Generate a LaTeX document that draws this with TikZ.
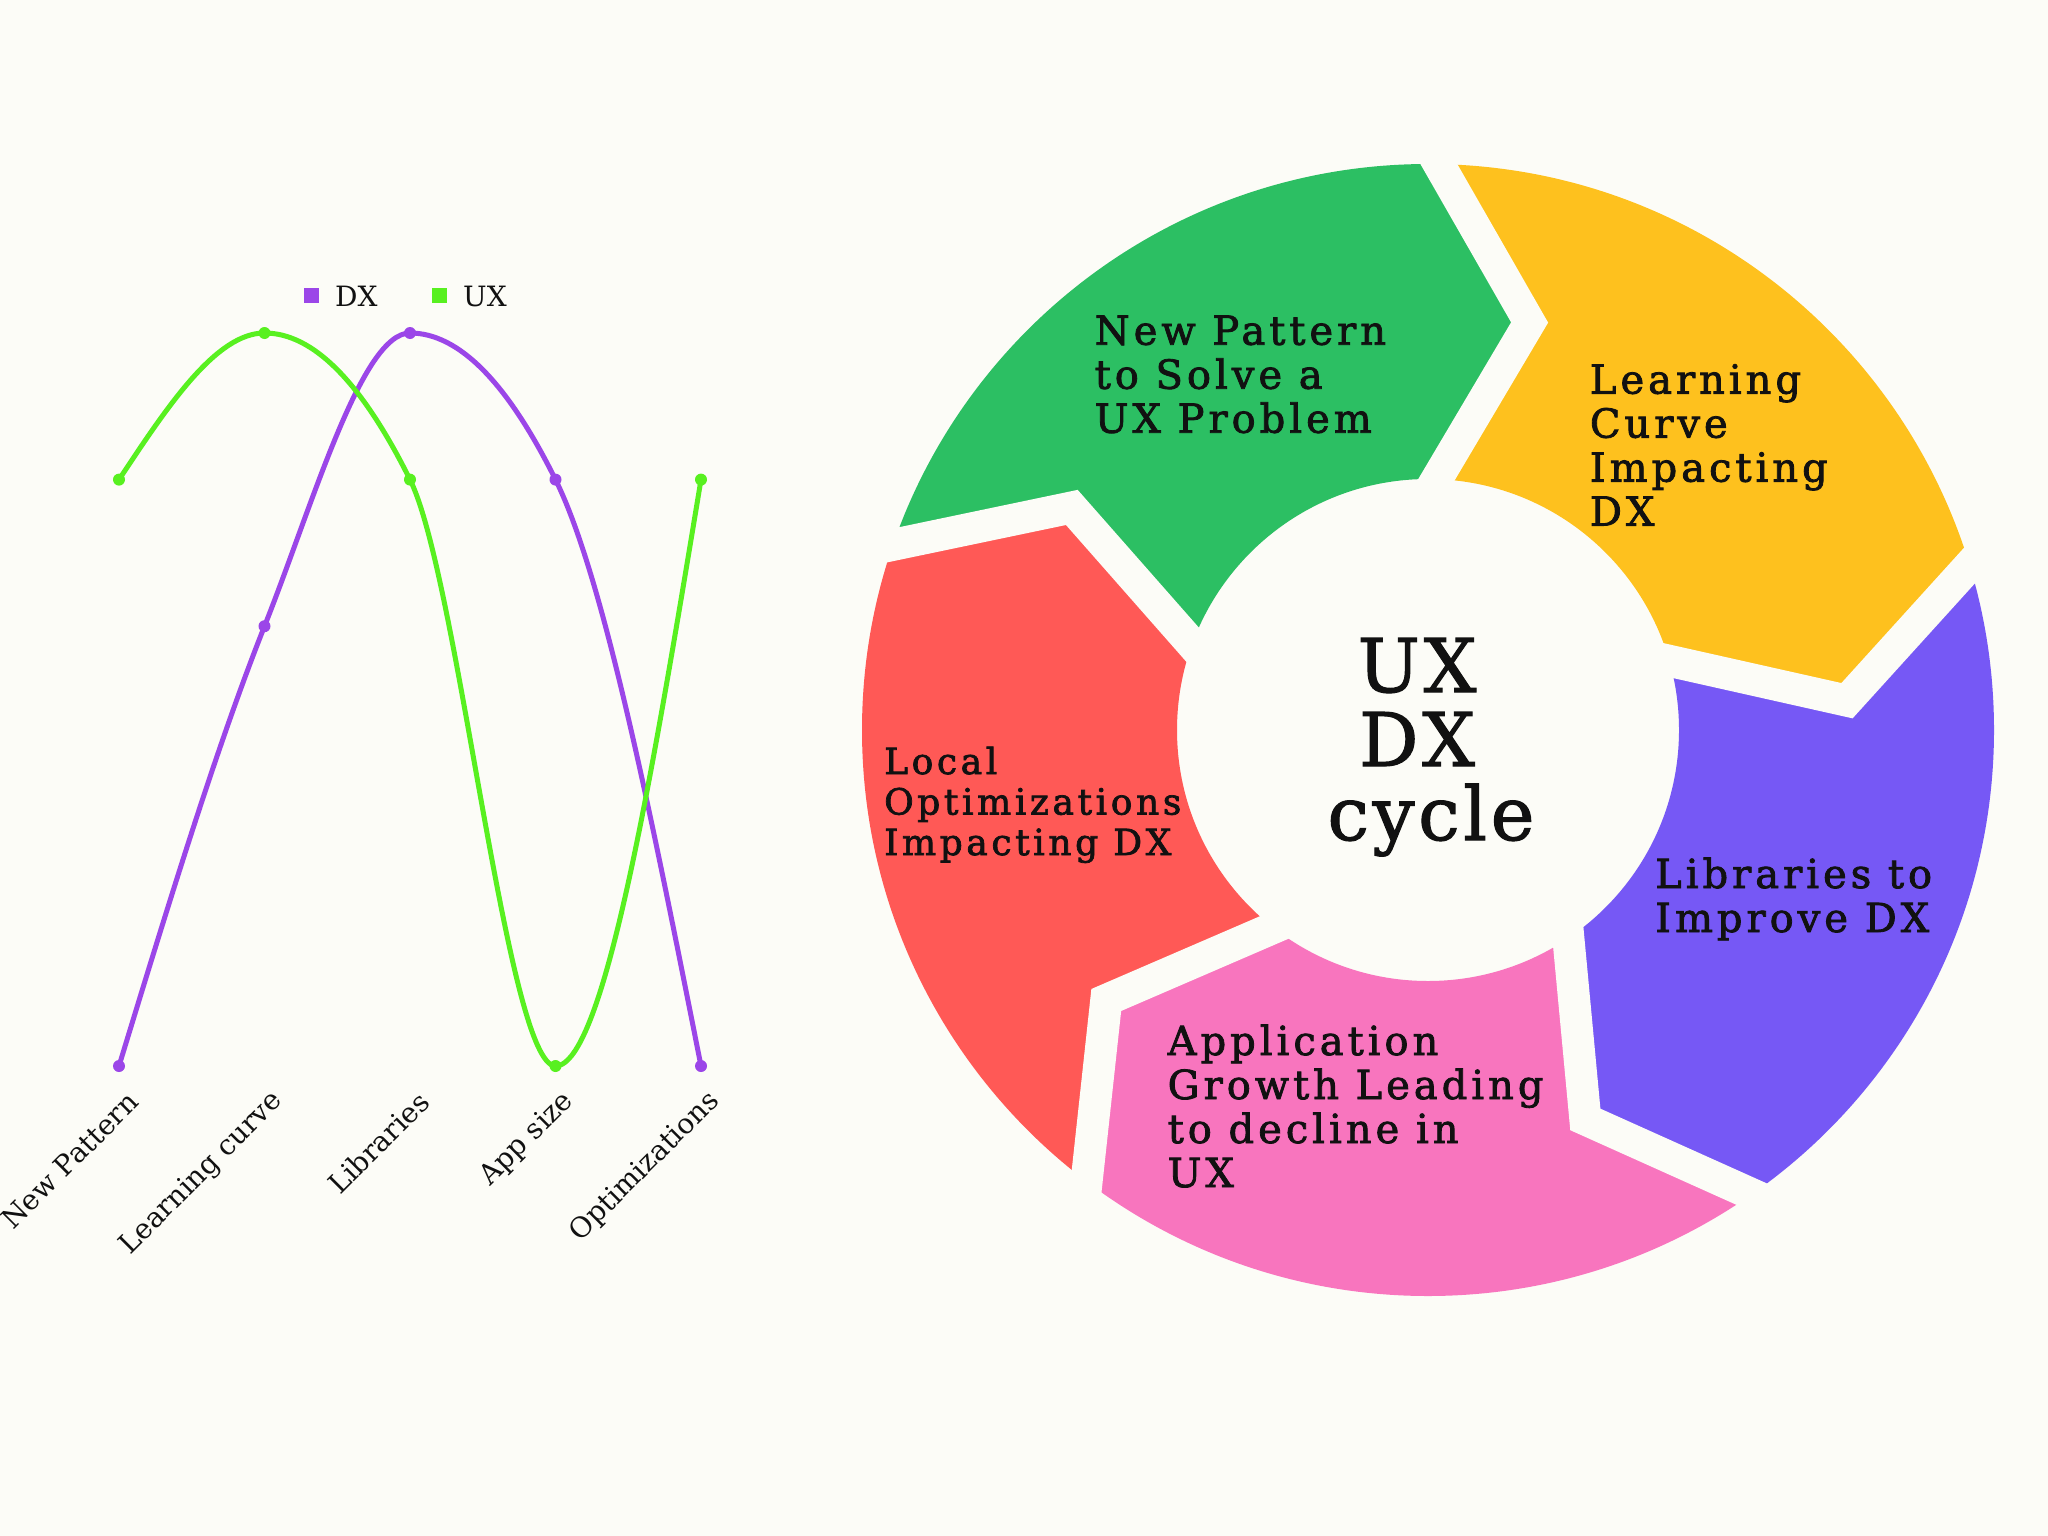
\documentclass[tikz,border=0pt]{standalone}
\usepackage{fontspec}
\setmainfont{DejaVu Serif}
\newfontfamily\cyclefont{DejaVu Serif}[LetterSpace=10, FakeBold=2]
\newfontfamily\hubfont{DejaVu Serif}[LetterSpace=5, FakeBold=1.5]
\usetikzlibrary{calc}

\definecolor{paper}{RGB}{252,252,247}
\definecolor{segGreen}{RGB}{44,191,99}
\definecolor{segYellow}{RGB}{254,193,30}
\definecolor{segPurple}{RGB}{118,88,245}
\definecolor{segPink}{RGB}{248,117,190}
\definecolor{segRed}{RGB}{255,89,86}
\definecolor{dxLine}{RGB}{155,70,232}
\definecolor{uxLine}{RGB}{88,240,32}
\definecolor{ink}{RGB}{17,17,17}

\tikzset{
  gapline/.style={draw=paper, line width=32pt, line join=miter, line cap=butt},
  % multi-line nodes: the base anchor sits on the last line
  segtext/.style={align=left, anchor=base west, inner sep=0pt, text=ink,
    font=\cyclefont\fontsize{40}{44}\selectfont},
  hubtext/.style={align=center, anchor=base, inner sep=0pt, text=ink,
    font=\hubfont\fontsize{74}{74}\selectfont},
  dxcurve/.style={draw=dxLine, line width=5pt, line cap=round},
  uxcurve/.style={draw=uxLine, line width=5pt, line cap=round},
  dxdot/.style={circle, fill=dxLine, minimum size=12pt, inner sep=0pt},
  uxdot/.style={circle, fill=uxLine, minimum size=12pt, inner sep=0pt},
  axislabel/.style={anchor=east, rotate=45, inner sep=0pt, text=ink,
    font=\fontsize{28}{34}\selectfont},
  legendkey/.style={minimum size=15pt, inner sep=0pt},
  legendtext/.style={anchor=base west, inner sep=0pt, text=ink,
    font=\fontsize{28}{34}\selectfont},
}

\begin{document}
\begin{tikzpicture}[x=1pt, y=-1pt]
\fill[paper] (0,0) rectangle (2048,1536);
\useasboundingbox (0,0) rectangle (2048,1536);

% ---------------- cycle ring ----------------
\coordinate (C) at (1428,730);
% boundary k: outer corner, arrow tip, inner corner, far helper point
\foreach \k in {0,...,5}{
  \coordinate (O\k) at ($(C)+({-160.9+72*\k}:566)$);
  \coordinate (T\k) at ($(C)+({-148.0+72*\k}:420)$);
  \coordinate (I\k) at ($(C)+({-160.0+72*\k}:251)$);
  \coordinate (F\k) at ($(C)+({-160.9+72*\k}:900)$);
}
\foreach \k/\col in {0/segGreen,1/segYellow,2/segPurple,3/segPink,4/segRed}{
  \pgfmathtruncatemacro\n{\k+1}
  \begin{scope}
    \clip (C) -- (I\k) -- (T\k) -- (O\k) -- (F\k) -- (F\n) -- (O\n) -- (T\n) -- (I\n) -- cycle;
    \fill[\col, even odd rule] (C) circle[radius=566pt] (C) circle[radius=251pt];
  \end{scope}
}
% chevron gaps between the arrows
\foreach \k in {0,...,4}{
  \draw[gapline] ($(T\k)!1.25!(O\k)$) -- (T\k) -- ($(T\k)!1.25!(I\k)$);
}

\node[segtext] (tGreen) at (1094.5,432.7) {New Pattern\\to Solve a\\UX Problem};
\node[segtext] (tYellow) at (1589.7,525.6) {Learning\\Curve\\Impacting\\DX};
\node[segtext] (tPurple) at (1655,932) {Libraries to\\Improve DX};
\node[segtext] (tPink) at (1167.5,1187) {Application\\Growth Leading\\to decline in\\UX};
\node[segtext, font=\cyclefont\fontsize{36}{40.5}\selectfont] (tRed) at (884,855)
  {Local\\Optimizations\\Impacting DX};

\node[hubtext] (hub) at (1431,840) {UX\rule{28pt}{0pt}\\DX\rule{28pt}{0pt}\\cycle};

% ---------------- line chart ----------------
\begin{scope}[shift={(119,1066)}, x=145.5pt, y=146.6pt]
  \coordinate (dx0) at (0,0);
  \coordinate (dx1) at (1,3);
  \coordinate (dx2) at (2,5);
  \coordinate (dx3) at (3,4);
  \coordinate (dx4) at (4,0);
  \coordinate (ux0) at (0,4);
  \coordinate (ux1) at (1,5);
  \coordinate (ux2) at (2,4);
  \coordinate (ux3) at (3,0);
  \coordinate (ux4) at (4,4);
  % monotone cubic interpolation through the data points
  \draw[dxcurve] (dx0) .. controls +(1/3,1.0833) and +(-1/3,-0.8333) .. (dx1)
                       .. controls +(1/3,0.8333) and +(-1/3,0) .. (dx2)
                       .. controls +(1/3,0) and +(-1/3,0.6667) .. (dx3)
                       .. controls +(1/3,-0.6667) and +(-1/3,1.6667) .. (dx4);
  \draw[uxcurve] (ux0) .. controls +(1/3,0.5) and +(-1/3,0) .. (ux1)
                       .. controls +(1/3,0) and +(-1/3,0.6667) .. (ux2)
                       .. controls +(1/3,-0.6667) and +(-1/3,0) .. (ux3)
                       .. controls +(1/3,0) and +(-1/3,-2) .. (ux4);
  \foreach \i in {0,...,4}{
    \node[dxdot] (dxm\i) at (dx\i) {};
    \node[uxdot] (uxm\i) at (ux\i) {};
  }
\end{scope}

% category labels
\node[axislabel] (lab0) at (133,1097) {New Pattern};
\node[axislabel] (lab1) at (278.5,1097) {Learning curve};
\node[axislabel] (lab2) at (424,1097) {Libraries};
\node[axislabel] (lab3) at (569.5,1097) {App size};
\node[axislabel] (lab4) at (715,1097) {Optimizations};

% legend
\node[legendkey, fill=dxLine] (keyDX) at (311,295.5) {};
\node[legendtext] (txtDX) at (335,306) {DX};
\node[legendkey, fill=uxLine] (keyUX) at (439,295.5) {};
\node[legendtext] (txtUX) at (463,306) {UX};
\end{tikzpicture}
\end{document}
